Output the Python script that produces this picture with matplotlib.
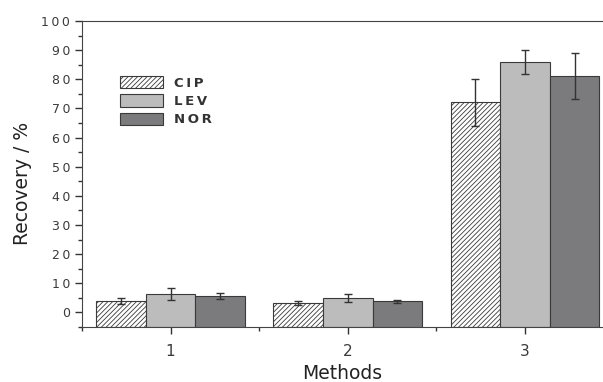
import numpy as np
import matplotlib.pyplot as plt
from matplotlib.ticker import MultipleLocator

methods = [1, 2, 3]
series = ['CIP', 'LEV', 'NOR']
cip = [3.8, 3.2, 72.1]
cip_err = [1.0, 0.8, 8.0]
lev = [6.3, 4.9, 85.8]
lev_err = [2.0, 1.4, 4.1]
nor = [5.7, 3.8, 81.1]
nor_err = [1.1, 0.5, 8.0]
yticks = list(range(0, 101, 10))

plt.rcParams['hatch.color'] = '#6a6a6a'
plt.rcParams['hatch.linewidth'] = 0.6


def spaced(s):
    # tick and legend text in the original is letter-spaced
    return '\u2009'.join(str(s))


fig = plt.figure(figsize=(6.03, 3.82), dpi=100)
ax = fig.add_axes([0.136, 0.144, 0.864, 0.801])

x = np.array(methods, dtype=float)
w = 0.28
base = -5
edge = '#3a3a3a'
ekw = dict(ecolor='#333333', capsize=3, elinewidth=1, capthick=1)
ax.bar(x - w, np.array(cip) - base, w, bottom=base, yerr=cip_err, color='white',
       edgecolor=edge, hatch='///////', linewidth=0.8, label=spaced(series[0]), error_kw=ekw)
ax.bar(x, np.array(lev) - base, w, bottom=base, yerr=lev_err, color='#bcbcbc',
       edgecolor=edge, linewidth=0.8, label=spaced(series[1]), error_kw=ekw)
ax.bar(x + w, np.array(nor) - base, w, bottom=base, yerr=nor_err, color='#7b7b7d',
       edgecolor=edge, linewidth=0.8, label=spaced(series[2]), error_kw=ekw)

ax.set_xlim(0.5, 3.44)
ax.set_ylim(-5, 100)
ax.set_xticks(methods)
ax.set_xticklabels([str(m) for m in methods])
ax.xaxis.set_minor_locator(MultipleLocator(0.5))
ax.set_yticks(yticks)
ax.set_yticklabels([spaced(t) for t in yticks])
ax.yaxis.set_minor_locator(MultipleLocator(5))
ax.tick_params(axis='both', which='major', direction='out', length=5, width=1,
               labelsize=9, labelcolor='#3a3a3a', color='#333333')
ax.tick_params(axis='x', which='major', labelsize=11, pad=7)
ax.tick_params(axis='both', which='minor', direction='out', length=3, width=1,
               color='#333333')
ax.spines['right'].set_visible(False)
for s in ['left', 'bottom', 'top']:
    ax.spines[s].set_color('#444444')

ax.set_ylabel('Recovery / %', fontsize=13.5, color='#222222', va='center')
ax.yaxis.set_label_coords(-0.115, 0.47)
ax.set_xlabel('Methods', fontsize=13.5, color='#222222', labelpad=4)

leg = ax.legend(loc='upper left', bbox_to_anchor=(0.05, 0.86), frameon=False,
                handlelength=3.3, handleheight=1.1, labelspacing=0.35,
                handletextpad=0.8, prop={'weight': 'bold', 'size': 9.5})
for t in leg.get_texts():
    t.set_color('#333333')

fig.savefig('out.png', dpi=100)
